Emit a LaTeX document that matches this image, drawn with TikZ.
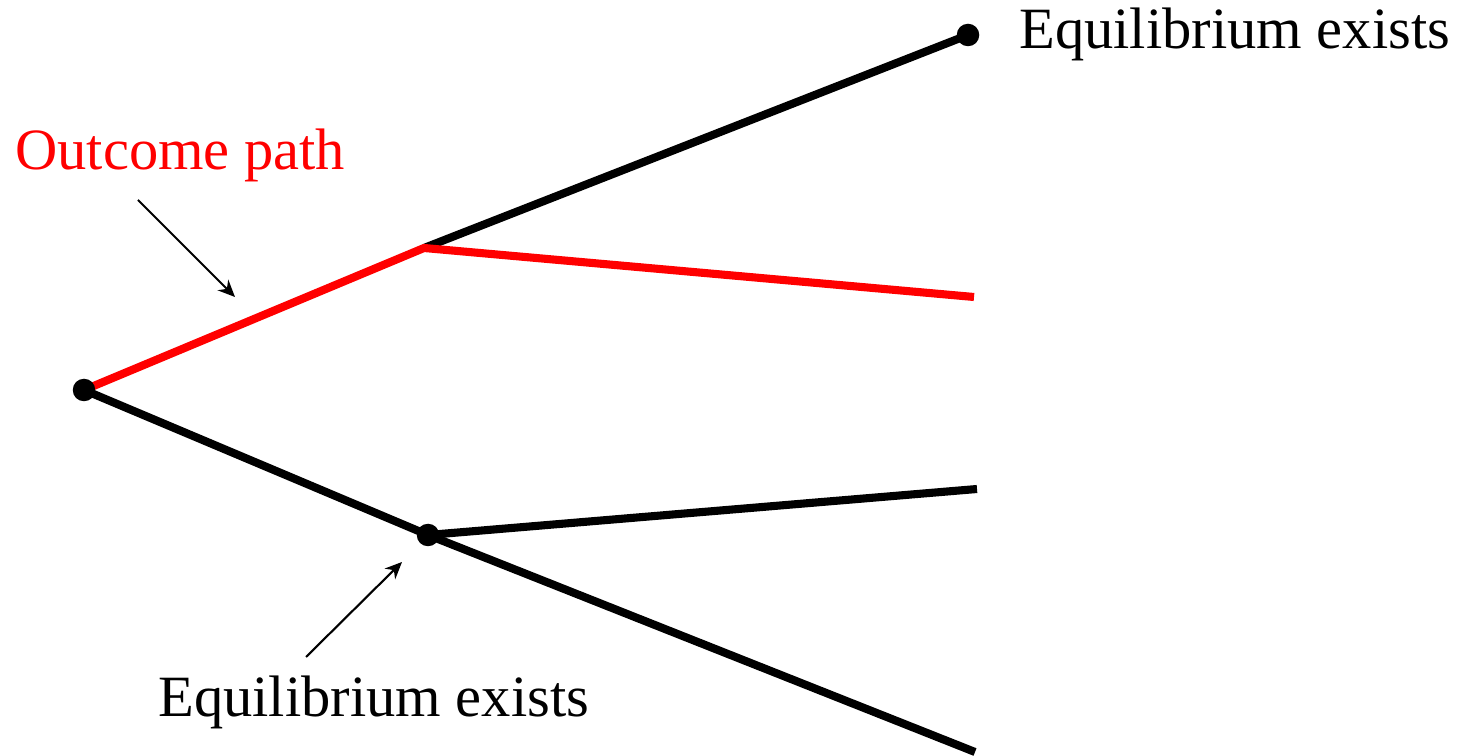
\documentclass[tikz,border=0pt]{standalone}
\usepackage{fontspec}
\setmainfont{Liberation Serif}
\usetikzlibrary{arrows.meta}
\definecolor{pathred}{RGB}{255,0,0}
\begin{document}
\begin{tikzpicture}[x=0.02cm,y=-0.02cm,
  branch/.style={line width=4.6pt,line cap=butt},
  dot/.style={circle,fill=black,inner sep=0pt,minimum size=0.45cm},
  label/.style={font=\fontsize{33.3}{36}\selectfont,inner sep=0pt,anchor=base west},
  pointer/.style={line width=1.2pt,-{Stealth[length=0.34cm,width=0.3cm]}}]
\useasboundingbox (0,0) rectangle (1458,756);
% positions
\coordinate (r) at (84,390);
\coordinate (u) at (424,248);
\coordinate (l) at (428,535);
\coordinate (tt) at (968,35);
\coordinate (ut) at (974,297);
\coordinate (lu) at (977,489);
\coordinate (ll) at (975,752);
% black branches
\draw[branch] (u) -- (tt);
\draw[branch] (r) -- (l);
\draw[branch] (l) -- (lu);
\draw[branch] (l) -- (ll);
% outcome path
\draw[branch,pathred,line join=round] (r) -- (u) -- (ut);
% dots
\node[dot] (root) at (r) {};
\node[dot] (low) at (l) {};
\node[dot] (top) at (tt) {};
% labels
\node[label] (eqtop) at (1019,49) {Equilibrium exists};
\node[label,text=pathred] (outc) at (15,170) {Outcome path};
\node[label] (eqbot) at (158,717) {Equilibrium exists};
% pointers
\coordinate (a1s) at (138,200);
\coordinate (a1e) at (235,297);
\coordinate (a2s) at (306,657);
\coordinate (a2e) at (402,562);
\draw[pointer] (a1s) -- (a1e);
\draw[pointer] (a2s) -- (a2e);
\end{tikzpicture}
\end{document}
